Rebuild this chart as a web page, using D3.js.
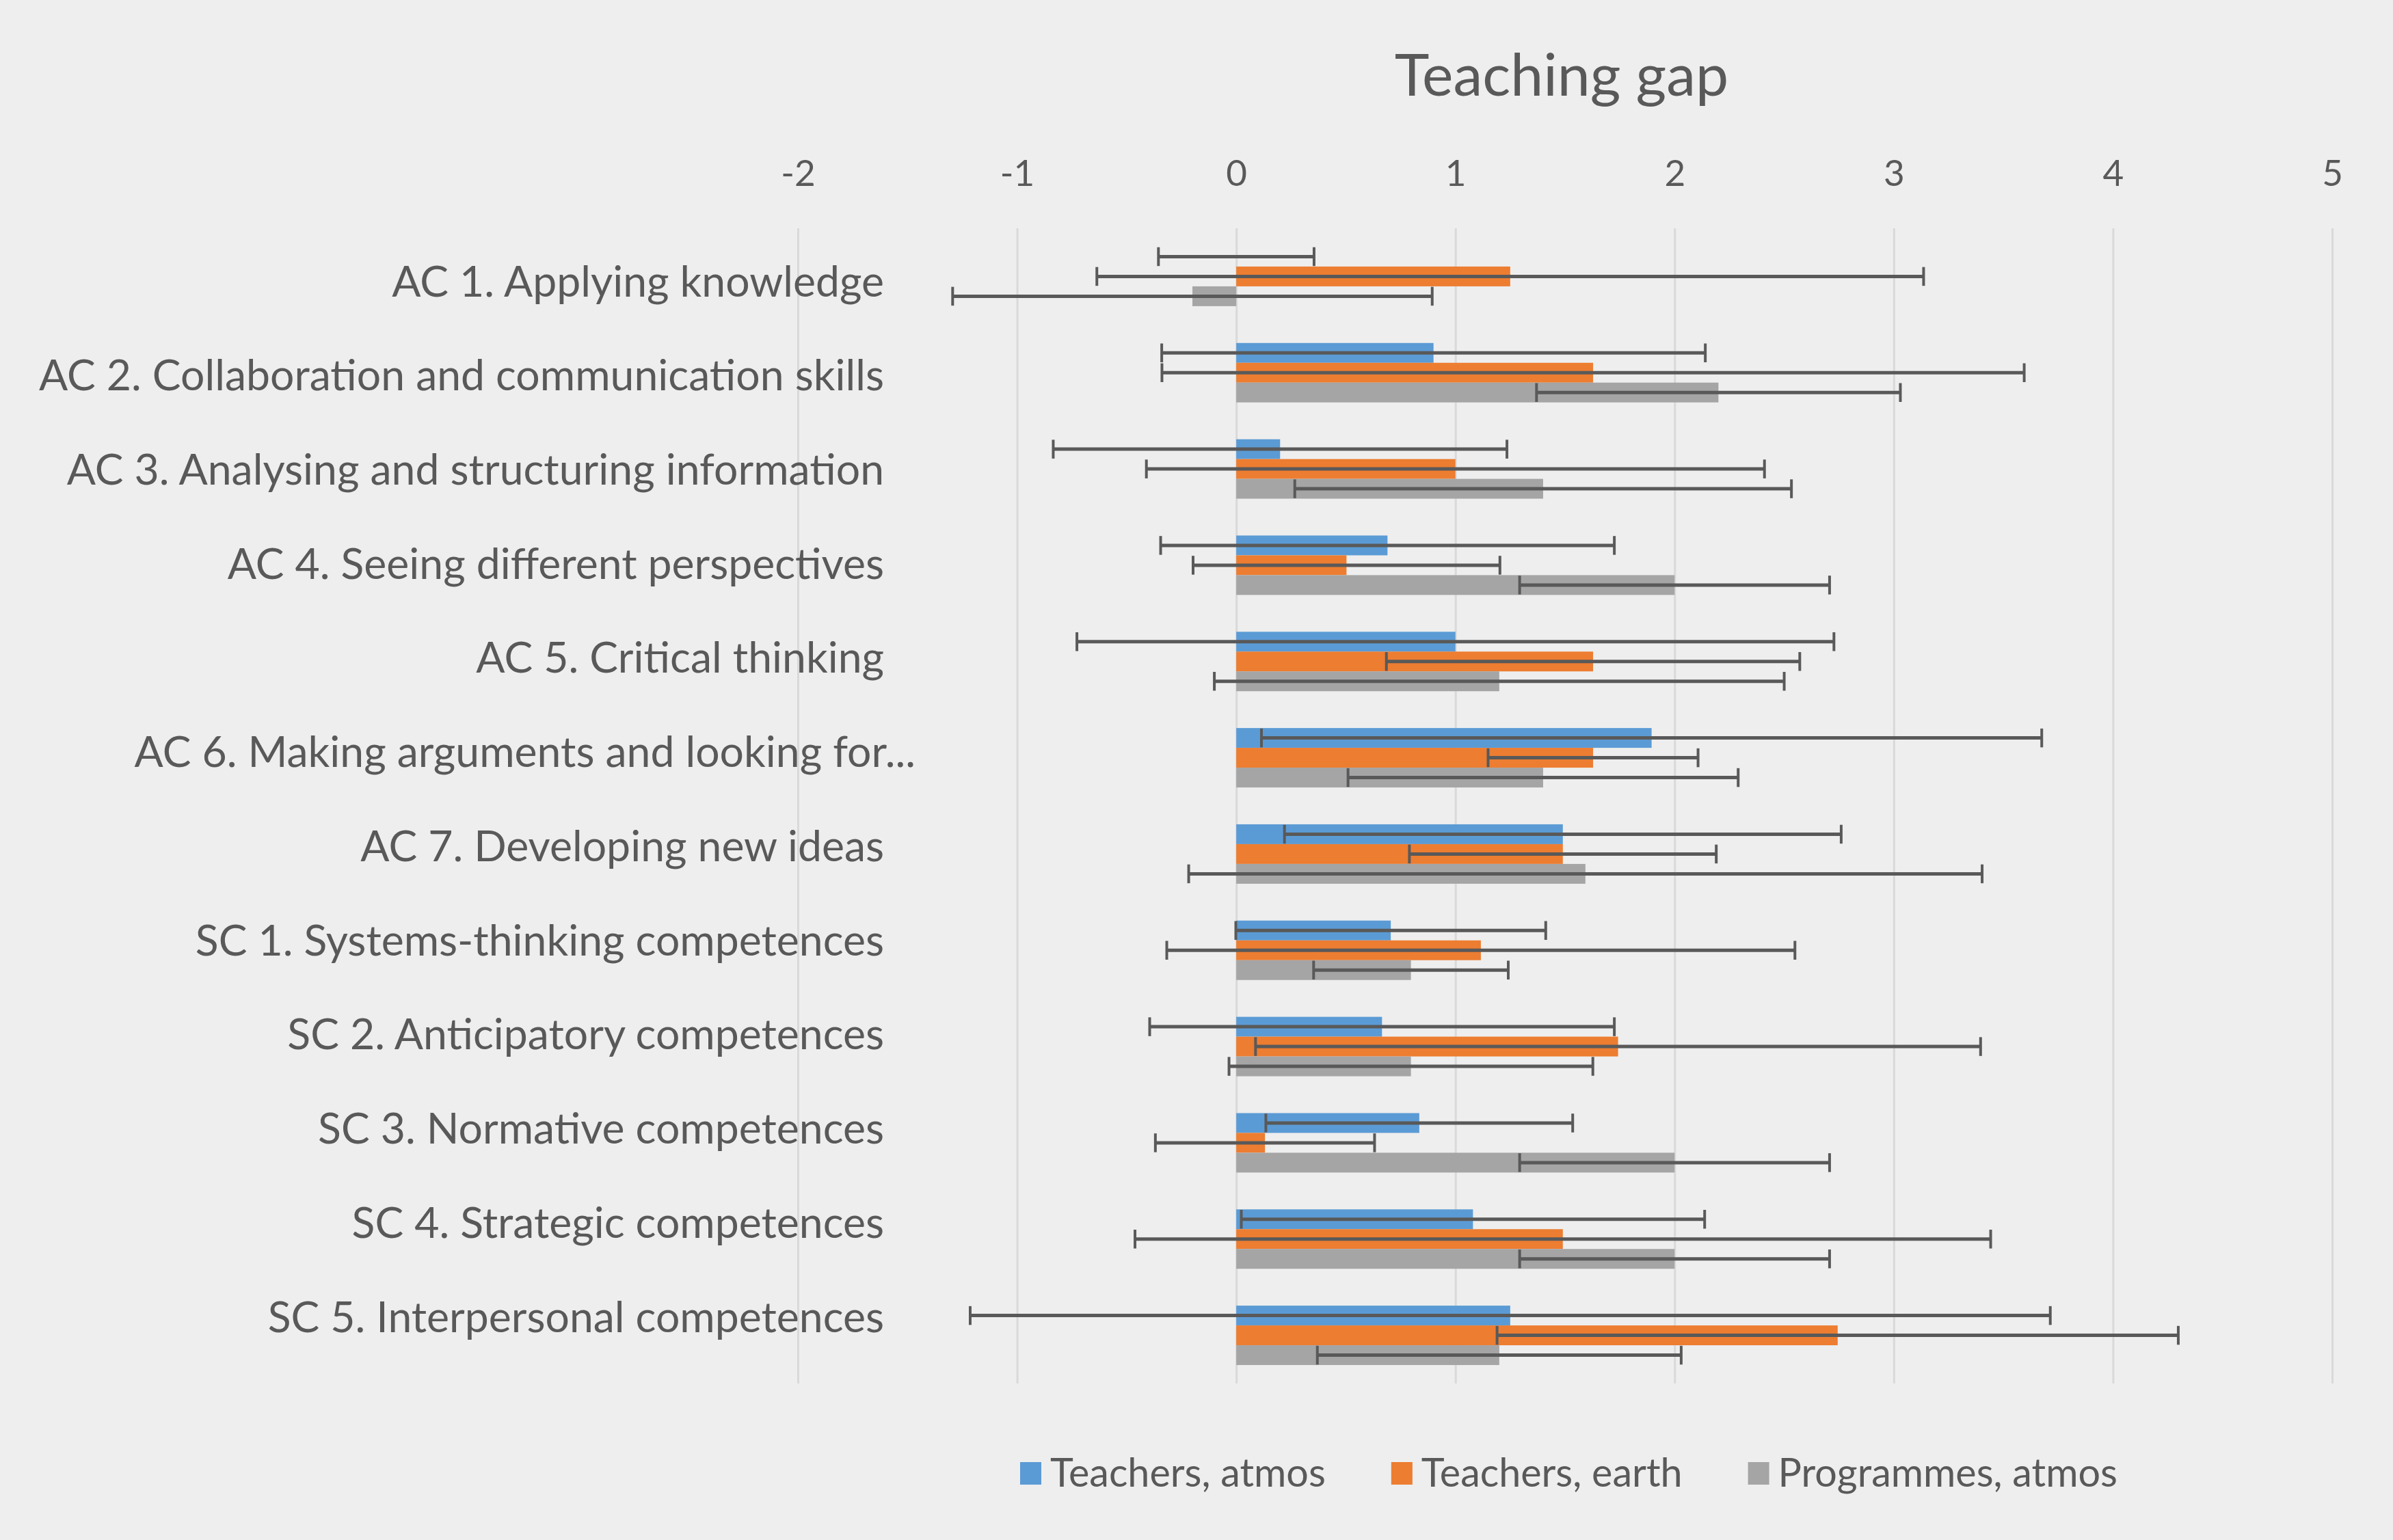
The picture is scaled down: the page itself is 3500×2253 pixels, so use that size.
<!DOCTYPE html>
<html>
<head>
<meta charset="utf-8">
<script src="https://cdn.jsdelivr.net/npm/d3@7"></script>
<style>
  html, body { margin: 0; padding: 0; background: #eeeeee; }
  svg { display: block; }
  text { font-family: Lato, "Open Sans", sans-serif; fill: #595959; }
</style>
</head>
<body>
<div id="chart"></div>
<script>
const categories = [
  "AC 1. Applying knowledge",
  "AC 2. Collaboration and communication skills",
  "AC 3. Analysing and structuring information",
  "AC 4. Seeing different perspectives",
  "AC 5. Critical thinking",
  "AC 6. Making arguments and looking for...",
  "AC 7. Developing new ideas",
  "SC 1. Systems-thinking competences",
  "SC 2. Anticipatory competences",
  "SC 3. Normative competences",
  "SC 4. Strategic competences",
  "SC 5. Interpersonal competences",
];

const seriesNames = ["Teachers, atmos", "Teachers, earth", "Programmes, atmos"];
const seriesColors = ["#5b9bd5", "#ed7d31", "#a5a5a5"];

const teachersAtmos = [0, 0.9, 0.2, 0.69, 1.0, 1.895, 1.49, 0.705, 0.665, 0.835, 1.08, 1.25];
const teachersAtmosErr = [0.355, 1.24, 1.035, 1.035, 1.727, 1.78, 1.27, 0.707, 1.06, 0.7, 1.057, 2.464];
const teachersEarth = [1.25, 1.628, 1.0, 0.503, 1.628, 1.628, 1.49, 1.116, 1.742, 0.131, 1.49, 2.744];
const teachersEarthErr = [1.886, 1.967, 1.41, 0.7, 0.943, 0.479, 0.7, 1.433, 1.654, 0.5, 1.952, 1.554];
const programmesAtmos = [-0.2, 2.2, 1.4, 2.0, 1.2, 1.4, 1.593, 0.797, 0.797, 2.0, 2.0, 1.2];
const programmesAtmosErr = [1.094, 0.83, 1.133, 0.707, 1.3, 0.89, 1.81, 0.444, 0.83, 0.707, 0.707, 0.83];

const xTicks = [-2, -1, 0, 1, 2, 3, 4, 5];

const width = 3500;
const height = 2253;
const margin = { top: 334, right: 89, bottom: 229, left: 1167 };

const values = [teachersAtmos, teachersEarth, programmesAtmos];
const errors = [teachersAtmosErr, teachersEarthErr, programmesAtmosErr];

// flatten into one row per bar
const rows = [];
categories.forEach((c, i) => {
  seriesNames.forEach((s, j) => {
    rows.push({ cat: c, series: s, idx: j, value: values[j][i], err: errors[j][i] });
  });
});

const svg = d3
  .select("#chart")
  .append("svg")
  .attr("width", width)
  .attr("height", height);

svg.append("rect").attr("width", width).attr("height", height).attr("fill", "#eeeeee");

const x = d3
  .scaleLinear()
  .domain([-2, 5])
  .range([margin.left, width - margin.right]);

const y = d3
  .scaleBand()
  .domain(categories)
  .range([margin.top, height - margin.bottom])
  .padding(0);

const ySub = d3
  .scaleBand()
  .domain(seriesNames)
  .range([0, y.bandwidth()])
  .paddingInner(0)
  .paddingOuter(0.93);

// the labels sit on a slightly tighter spacing than the bars
const yLabel = d3.scalePoint().domain(categories).range([408, 1923]);

// gridlines
const xAxis = d3
  .axisTop(x)
  .tickValues(xTicks)
  .tickSize(-(height - margin.bottom - margin.top))
  .tickFormat((d) => String(d));

const gx = svg
  .append("g")
  .attr("class", "xAxis")
  .attr("transform", `translate(0, ${margin.top})`)
  .call(xAxis);
gx.select(".domain").remove();
gx.selectAll(".tick line").attr("stroke", "#d9d9d9").attr("stroke-width", 3);
gx.selectAll(".tick text")
  .attr("y", -62)
  .attr("dy", 0)
  .attr("font-size", 53)
  .attr("fill", "#595959");

// category labels
const yAxis = d3.axisLeft(yLabel).tickSize(0).tickPadding(0);
const gy = svg
  .append("g")
  .attr("class", "yAxis")
  .attr("transform", `translate(1293, 0)`)
  .call(yAxis);
gy.select(".domain").remove();
gy.selectAll(".tick text")
  .attr("font-size", 62.5)
  .attr("fill", "#595959")
  .attr("dy", "0.4em")
  // the cut-off label runs past the others in the original
  .attr("x", (d) => (d.endsWith("...") ? 46 : 0));

// bars
svg
  .append("g")
  .attr("class", "bars")
  .selectAll("rect")
  .data(rows)
  .join("rect")
  .attr("x", (d) => x(Math.min(0, d.value)))
  .attr("width", (d) => Math.abs(x(d.value) - x(0)))
  .attr("y", (d) => y(d.cat) + ySub(d.series))
  .attr("height", ySub.bandwidth())
  .attr("fill", (d) => seriesColors[d.idx]);

// error bars
const errG = svg
  .append("g")
  .attr("class", "errors")
  .selectAll("g")
  .data(rows)
  .join("g")
  .attr("transform", (d) => `translate(0, ${y(d.cat) + ySub(d.series) + ySub.bandwidth() / 2})`);

const cap = ySub.bandwidth() * 0.95;

errG
  .append("line")
  .attr("x1", (d) => x(d.value - d.err))
  .attr("x2", (d) => x(d.value + d.err))
  .attr("stroke", "#595959")
  .attr("stroke-width", 5);

errG
  .append("line")
  .attr("x1", (d) => x(d.value - d.err))
  .attr("x2", (d) => x(d.value - d.err))
  .attr("y1", -cap / 2)
  .attr("y2", cap / 2)
  .attr("stroke", "#595959")
  .attr("stroke-width", 4);

errG
  .append("line")
  .attr("x1", (d) => x(d.value + d.err))
  .attr("x2", (d) => x(d.value + d.err))
  .attr("y1", -cap / 2)
  .attr("y2", cap / 2)
  .attr("stroke", "#595959")
  .attr("stroke-width", 4);

// title
svg
  .append("text")
  .attr("x", 2284)
  .attr("y", 140)
  .attr("text-anchor", "middle")
  .attr("font-size", 86)
  .text("Teaching gap");

// legend
const legend = svg.append("g").attr("class", "legend");
let lx = 1492;
seriesNames.forEach((s, i) => {
  const item = legend.append("g").attr("transform", `translate(${lx}, 2139)`);
  item.append("rect").attr("width", 31).attr("height", 33).attr("fill", seriesColors[i]);
  const t = item
    .append("text")
    .attr("x", 44)
    .attr("y", 36)
    .attr("font-size", 57.5)
    .text(s);
  lx += 44 + t.node().getComputedTextLength() + 96;
});
</script>
</body>
</html>
